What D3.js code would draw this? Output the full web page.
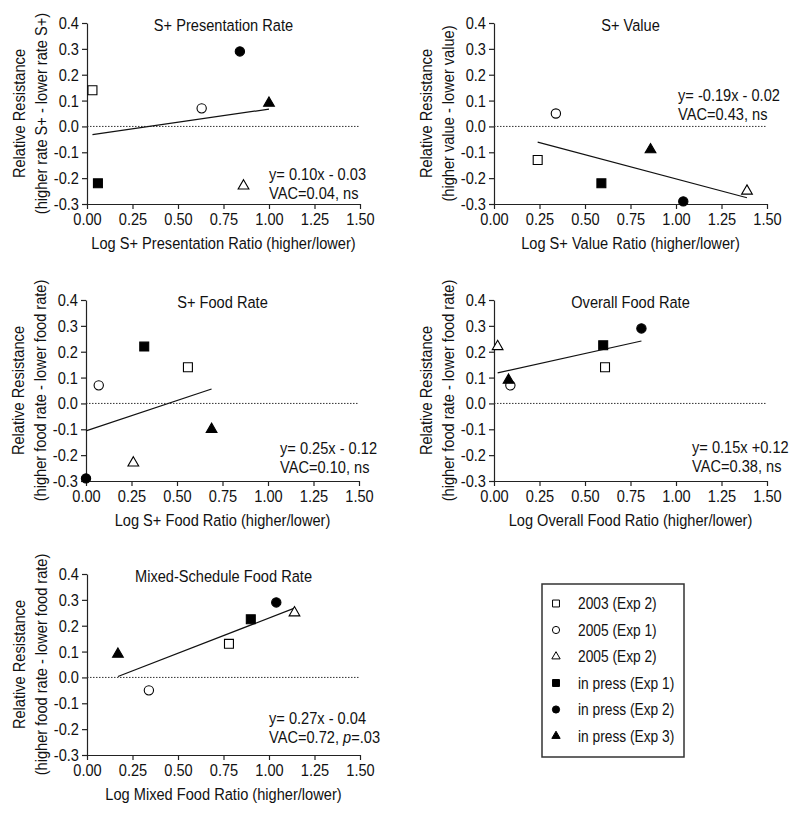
<!DOCTYPE html>
<html>
<head>
<meta charset="utf-8">
<script src="https://cdn.jsdelivr.net/npm/d3@7"></script>
<style>
  body { margin: 0; background: #fff; }
  svg { display: block; }
  text { font-family: "Liberation Sans", Arial, sans-serif; fill: #111; }
</style>
</head>
<body>
<svg id="chart"></svg>
<script>
// studies, in legend order
const studies = ["2003 (Exp 2)", "2005 (Exp 1)", "2005 (Exp 2)", "in press (Exp 1)", "in press (Exp 2)", "in press (Exp 3)"];

// log ratio (x) and relative resistance (y) per study, one pair per panel
const presentationX = [0.03, 0.63, 0.86, 0.06, 0.84, 1.00];
const presentationY = [0.14, 0.07, -0.23, -0.22, 0.29, 0.09];
const valueX = [0.24, 0.34, 1.39, 0.59, 1.04, 0.86];
const valueY = [-0.13, 0.05, -0.25, -0.22, -0.29, -0.09];
const foodX = [0.56, 0.07, 0.26, 0.32, 0.00, 0.69];
const foodY = [0.14, 0.07, -0.23, 0.22, -0.29, -0.10];
const overallX = [0.61, 0.09, 0.02, 0.60, 0.81, 0.08];
const overallY = [0.14, 0.07, 0.22, 0.225, 0.29, 0.09];
const mixedX = [0.78, 0.34, 1.14, 0.90, 1.04, 0.17];
const mixedY = [0.13, -0.05, 0.25, 0.225, 0.29, 0.09];

const panelTitles = ["S+ Presentation Rate", "S+ Value", "S+ Food Rate", "Overall Food Rate", "Mixed-Schedule Food Rate"];
const xTitles = [
  "Log S+ Presentation Ratio (higher/lower)",
  "Log S+ Value Ratio (higher/lower)",
  "Log S+ Food Ratio (higher/lower)",
  "Log Overall Food Ratio (higher/lower)",
  "Log Mixed Food Ratio (higher/lower)",
];
const yTitles = [
  "(higher rate S+ - lower rate S+)",
  "(higher value - lower value)",
  "(higher food rate - lower food rate)",
  "(higher food rate - lower food rate)",
  "(higher food rate - lower food rate)",
];
const fitLabels = ["y= 0.10x - 0.03", "y= -0.19x - 0.02", "y= 0.25x - 0.12", "y= 0.15x +0.12", "y= 0.27x - 0.04"];
const vacLabels = ["VAC=0.04, ns", "VAC=0.43, ns", "VAC=0.10, ns", "VAC=0.38, ns", "VAC=0.72, p=.03"];

const xTicks = [0, 0.25, 0.5, 0.75, 1, 1.25, 1.5];
const xTickLabels = ["0.00", "0.25", "0.50", "0.75", "1.00", "1.25", "1.50"];
const yTicks = [-0.3, -0.2, -0.1, 0, 0.1, 0.2, 0.3, 0.4];
const yTickLabels = ["-0.3", "-0.2", "-0.1", "0.0", "0.1", "0.2", "0.3", "0.4"];

// layout + styles
const width = 800;
const height = 813;
const W = 273;
const H = 181;
const K = 0.86; // the figure uses a narrow sans face
const panelPos = [
  { left: 87, top: 23, ann: [182, 151] },
  { left: 494, top: 23, ann: [184, 72] },
  { left: 86, top: 300, ann: [194, 148] },
  { left: 494, top: 300, ann: [198, 147] },
  { left: 87, top: 574, ann: [182, 144] },
];
const symbolTypes = [d3.symbolSquare, d3.symbolCircle, d3.symbolTriangle, d3.symbolSquare, d3.symbolCircle, d3.symbolTriangle];
const symbolSizes = [80, 68, 50, 80, 68, 50];
const filled = [false, false, false, true, true, true];

const panels = [
  [presentationX, presentationY],
  [valueX, valueY],
  [foodX, foodY],
  [overallX, overallY],
  [mixedX, mixedY],
];

function squeeze(sel) {
  sel.each(function () {
    const t = d3.select(this);
    const x = +(t.attr("x") || 0);
    t.attr("x", x / K).attr("transform", ((t.attr("transform") || "") + ` scale(${K},1)`).trim());
  });
}

function fit(xs, ys) {
  const mx = d3.mean(xs);
  const my = d3.mean(ys);
  let sxy = 0;
  let sxx = 0;
  xs.forEach((x, i) => {
    sxy += (x - mx) * (ys[i] - my);
    sxx += (x - mx) * (x - mx);
  });
  const slope = sxy / sxx;
  return { slope, intercept: my - slope * mx };
}

const svg = d3.select("#chart").attr("width", width).attr("height", height);

const xScale = d3.scaleLinear().domain([0, 1.5]).range([0, W]);
const yScale = d3.scaleLinear().domain([-0.3, 0.4]).range([H, 0]);

panels.forEach(([xs, ys], p) => {
  const pos = panelPos[p];
  const g = svg.append("g").attr("transform", `translate(${pos.left}, ${pos.top})`);

  // axes
  const xAxis = g
    .append("g")
    .attr("transform", `translate(0, ${H})`)
    .call(
      d3.axisBottom(xScale)
        .tickValues(xTicks)
        .tickFormat((d, i) => xTickLabels[i])
        .tickSize(5)
        .tickSizeOuter(0)
        .tickPadding(4)
    );
  const yAxis = g.append("g").call(
    d3.axisLeft(yScale)
      .tickValues(yTicks)
      .tickFormat((d, i) => yTickLabels[i])
      .tickSize(5)
      .tickSizeOuter(0)
      .tickPadding(3)
  );
  [xAxis, yAxis].forEach((a) => {
    a.selectAll("path, line").attr("stroke", "#222").attr("stroke-width", 1.2);
    a.selectAll("text").attr("font-size", 17).attr("fill", "#111").call(squeeze);
    a.attr("font-family", null);
  });

  // zero reference
  g.append("line")
    .attr("x1", xScale(0))
    .attr("x2", xScale(1.5))
    .attr("y1", yScale(0))
    .attr("y2", yScale(0))
    .attr("stroke", "#333")
    .attr("stroke-width", 1)
    .attr("stroke-dasharray", "1.5,1.5");

  // regression line across the data range
  const f = fit(xs, ys);
  const [x0, x1] = d3.extent(xs);
  g.append("line")
    .attr("x1", xScale(x0))
    .attr("x2", xScale(x1))
    .attr("y1", yScale(f.slope * x0 + f.intercept))
    .attr("y2", yScale(f.slope * x1 + f.intercept))
    .attr("stroke", "#111")
    .attr("stroke-width", 1.2);

  // points
  g.selectAll(".pt")
    .data(xs.map((x, i) => ({ x, y: ys[i], i })))
    .join("path")
    .attr("class", "pt")
    .attr("transform", (d) => `translate(${xScale(d.x)}, ${yScale(d.y)})`)
    .attr("d", (d) => d3.symbol(symbolTypes[d.i], symbolSizes[d.i])())
    .attr("fill", (d) => (filled[d.i] ? "#000" : "#fff"))
    .attr("stroke", "#000")
    .attr("stroke-width", 1.1);

  // titles
  g.append("text")
    .attr("x", W / 2)
    .attr("y", 8)
    .attr("text-anchor", "middle")
    .attr("font-size", 17)
    .text(panelTitles[p])
    .call(squeeze);

  g.append("text")
    .attr("x", W / 2)
    .attr("y", H + 45)
    .attr("text-anchor", "middle")
    .attr("font-size", 17)
    .text(xTitles[p])
    .call(squeeze);

  [["Relative Resistance", -68], [yTitles[p], -46]].forEach(([label, off]) => {
    g.append("text")
      .attr("transform", `translate(${off}, ${H / 2}) rotate(-90)`)
      .attr("text-anchor", "middle")
      .attr("dy", "0.35em")
      .attr("font-size", 17)
      .text(label)
      .call(squeeze);
  });

  // fit annotation
  const ann = g.append("g");
  ann.append("text")
    .attr("x", pos.ann[0])
    .attr("y", pos.ann[1])
    .attr("dy", "0.35em")
    .attr("font-size", 17)
    .text(fitLabels[p])
    .call(squeeze);
  const vac = ann.append("text")
    .attr("x", pos.ann[0])
    .attr("y", pos.ann[1] + 19)
    .attr("dy", "0.35em")
    .attr("font-size", 17);
  vacLabels[p].split(/(\bp\b)/).forEach((part) => {
    if (!part) return;
    vac.append("tspan").attr("font-style", part === "p" ? "italic" : null).text(part);
  });
  vac.call(squeeze);
});

// legend
const legend = svg.append("g").attr("transform", "translate(542, 584)");
legend.append("rect")
  .attr("width", 142)
  .attr("height", 173)
  .attr("fill", "#fff")
  .attr("stroke", "#333")
  .attr("stroke-width", 1.5);

const rows = legend.selectAll(".row")
  .data(studies)
  .join("g")
  .attr("class", "row")
  .attr("transform", (d, i) => `translate(0, ${19.5 + i * 26.5})`);

rows.append("path")
  .attr("transform", "translate(14, 0)")
  .attr("d", (d, i) => d3.symbol(symbolTypes[i], symbolSizes[i] * 0.6)())
  .attr("fill", (d, i) => (filled[i] ? "#000" : "#fff"))
  .attr("stroke", "#000")
  .attr("stroke-width", 1);

rows.append("text")
  .attr("x", 36)
  .attr("dy", "0.35em")
  .attr("font-size", 16)
  .text((d) => d)
  .call(squeeze);
</script>
</body>
</html>
